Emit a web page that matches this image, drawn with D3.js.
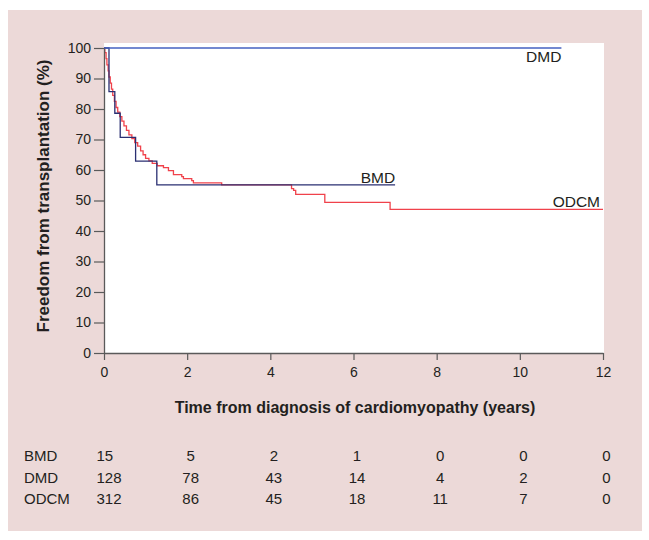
<!DOCTYPE html>
<html>
<head>
<meta charset="utf-8">
<script src="https://cdn.jsdelivr.net/npm/d3@7"></script>
<style>
  html, body { margin: 0; padding: 0; background: #ffffff; }
  svg { display: block; }
  text { font-family: "Liberation Sans", Arial, Helvetica, sans-serif; fill: #231f20; }
</style>
</head>
<body>
<svg id="chart" width="649" height="540"></svg>
<script>
// ---------------- data ----------------
const xTicks = [0, 2, 4, 6, 8, 10, 12];
const yTicks = [0, 10, 20, 30, 40, 50, 60, 70, 80, 90, 100];

const dmdTimes = [0, 11];
const dmdSurv  = [100, 100];

const bmdTimes = [0, 0.12, 0.26, 0.39, 0.76, 1.27, 7.0];
const bmdSurv  = [100, 85.7, 78.6, 70.7, 62.9, 55.1, 55.1];

const odcmTimes = [0, 0.02, 0.05, 0.07, 0.10, 0.12, 0.15, 0.18, 0.21, 0.25, 0.29, 0.33, 0.38, 0.43, 0.48,
                   0.54, 0.60, 0.67, 0.74, 0.81, 0.88, 0.94, 1.00, 1.08, 1.16, 1.28, 1.43, 1.55, 1.67, 1.87,
                   1.91, 2.11, 2.15, 2.83, 4.51, 4.56, 4.61, 5.31, 6.88, 12];
const odcmSurv  = [100, 98.5, 96.5, 94.5, 92.5, 90.5, 88.5, 86.5, 84.5, 82.5, 80.5, 79, 77.5, 76, 74.5,
                   73, 71.5, 70.3, 69, 67.8, 66.3, 65, 63.8, 63, 62.2, 61.4, 60.8, 59.8, 58.5, 57.8,
                   57.2, 56.5, 55.8, 55.1, 53.9, 53.3, 52.0, 49.4, 47.1, 47.1];

const seriesNames = ["BMD", "DMD", "ODCM"];
const atRisk = {
  BMD:  [15, 5, 2, 1, 0, 0, 0],
  DMD:  [128, 78, 43, 14, 4, 2, 0],
  ODCM: [312, 86, 45, 18, 11, 7, 0]
};

const xTitle = "Time from diagnosis of cardiomyopathy (years)";
const yTitle = "Freedom from transplantation (%)";

// ---------------- drawing ----------------
const svg = d3.select("#chart");

// pink panel
svg.append("rect").attr("x", 8).attr("y", 10).attr("width", 634).attr("height", 521)
   .attr("fill", "#ecd9d8");

const x = d3.scaleLinear().domain([0, 12]).range([104, 603]);
const y = d3.scaleLinear().domain([0, 100]).range([353, 48]);

// white plotting area
svg.append("rect").attr("x", x(0)).attr("y", 43)
   .attr("width", x(12) - x(0) + 1).attr("height", y(0) - 43)
   .attr("fill", "#ffffff");

const line = d3.line().x(d => x(d[0])).y(d => y(d[1])).curve(d3.curveStepAfter);
const mk = (t, s) => t.map((v, i) => [v, s[i]]);

svg.append("path").datum(mk(odcmTimes, odcmSurv))
   .attr("d", line).attr("fill", "none").attr("stroke", "#f0424b").attr("stroke-width", 1.3);
svg.append("path").datum(mk(bmdTimes, bmdSurv))
   .attr("d", line).attr("fill", "none").attr("stroke", "#2a2f72").attr("stroke-width", 1.3);
svg.append("path").datum(mk(dmdTimes, dmdSurv))
   .attr("d", line).attr("fill", "none").attr("stroke", "#4560c0").attr("stroke-width", 1.3);

// axes
const axColor = "#5a5a5a";
const gx = svg.append("g").attr("transform", `translate(0,${y(0)})`)
  .call(d3.axisBottom(x).tickValues(xTicks).tickSize(7).tickSizeOuter(0).tickPadding(7));
const gy = svg.append("g").attr("transform", `translate(${x(0)},0)`)
  .call(d3.axisLeft(y).tickValues(yTicks).tickSize(10).tickSizeOuter(0).tickPadding(3));
[gx, gy].forEach(g => {
  g.select(".domain").attr("stroke", axColor).attr("stroke-width", 1.3);
  g.selectAll(".tick line").attr("stroke", axColor).attr("stroke-width", 1.2);
  g.selectAll(".tick text").attr("font-size", 14).attr("fill", "#231f20")
   .style("font-family", '"Liberation Sans", Arial, sans-serif');
});

// axis titles
svg.append("text").attr("x", 355).attr("y", 413)
   .attr("text-anchor", "middle").attr("font-size", 16).attr("font-weight", "bold").text(xTitle);
svg.append("text").attr("transform", `translate(49,196) rotate(-90)`)
   .attr("text-anchor", "middle").attr("font-size", 17).attr("font-weight", "bold").text(yTitle);

// series labels
svg.append("text").attr("x", x(11)).attr("y", 62).attr("text-anchor", "end")
   .attr("font-size", 15.5).text("DMD");
svg.append("text").attr("x", x(7)).attr("y", y(55.1) - 2).attr("text-anchor", "end")
   .attr("font-size", 15.5).text("BMD");
svg.append("text").attr("x", x(12) - 3).attr("y", y(47.1) - 2).attr("text-anchor", "end")
   .attr("font-size", 15.5).text("ODCM");

// numbers at risk table
const rowY = d3.scalePoint().domain(seriesNames).range([461, 504]);
seriesNames.forEach(name => {
  svg.append("text").attr("x", 24).attr("y", rowY(name)).attr("font-size", 15).text(name);
  atRisk[name].forEach((v, i) => {
    const t = svg.append("text").attr("y", rowY(name)).attr("font-size", 15).text(v);
    if (i === 0) t.attr("x", 96.5).attr("text-anchor", "start");
    else t.attr("x", x(xTicks[i]) + 3.5).attr("text-anchor", "middle");
  });
});
</script>
</body>
</html>
